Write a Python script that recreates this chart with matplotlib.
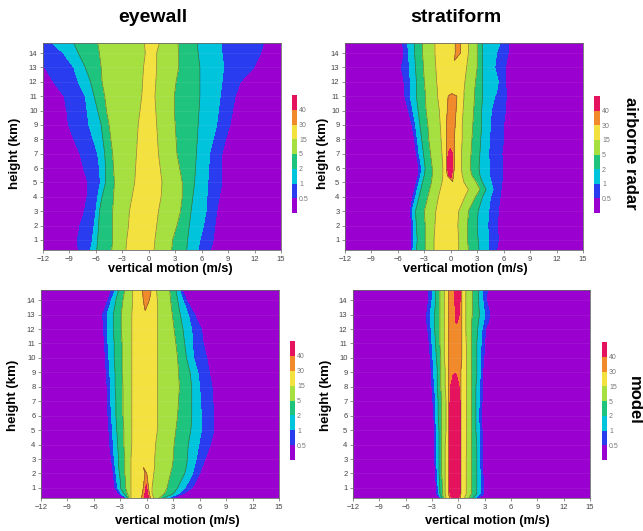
import numpy as np
import matplotlib
matplotlib.use('Agg')
from matplotlib import pyplot as plt
from matplotlib.colors import ListedColormap, BoundaryNorm
from matplotlib.cm import ScalarMappable

plt.rcParams['font.family'] = ['Liberation Sans', 'DejaVu Sans']

# contour levels (frequency, %) and their colours
levels = [0.5, 1, 2, 5, 15, 30, 40]
colors = ['#9a00d0', '#2a3cf0', '#00c4dc', '#1ec47e', '#a6e040', '#f2e13e', '#f08a2a', '#e5125e']
xticks = [-12, -9, -6, -3, 0, 3, 6, 9, 12, 15]
yticks = list(range(1, 15))

# each row: velocity (m/s) where the field crosses 0.5, 1, 2, 5, 15, 30, 40
# left = reading in from the left edge, right = reading in from the right edge

# airborne radar, eyewall
ew_h = [0.3, 1, 2, 3, 4, 5, 6, 7, 8, 9, 10, 11, 12, 13, 14, 14.7]
ew_left = [[-8.0, -6.6, -5.9, -4.2, -2.6], [-8.1, -6.4, -5.8, -4.1, -2.5],
           [-7.8, -6.2, -5.7, -4.1, -2.3], [-7.3, -6.0, -5.6, -4.1, -2.2],
           [-7.0, -5.8, -5.3, -4.0, -1.9], [-6.9, -5.5, -4.9, -3.9, -1.6],
           [-7.4, -5.6, -4.9, -4.0, -1.5], [-7.8, -5.8, -5.0, -4.1, -1.4],
           [-8.5, -6.3, -5.2, -4.3, -1.3], [-9.1, -6.8, -5.4, -4.5, -1.2],
           [-9.3, -7.0, -5.8, -4.8, -1.0], [-9.6, -7.2, -6.2, -5.0, -0.8],
           [-10.8, -8.0, -6.6, -5.3, -0.7], [-11.8, -8.5, -7.2, -5.4, -0.6],
           [-13.0, -9.7, -8.0, -5.6, -0.4], [-13.0, -11.0, -8.5, -5.8, -0.5]]
ew_right = [[7.0, 5.6, 4.3, 2.6, 0.6], [7.3, 5.8, 4.4, 2.7, 0.7],
            [7.5, 6.2, 4.6, 3.2, 0.9], [7.7, 6.5, 4.8, 3.6, 1.1],
            [8.0, 6.6, 5.0, 3.8, 1.4], [8.3, 6.7, 5.2, 3.8, 1.5],
            [8.3, 6.8, 5.3, 3.5, 1.3], [8.3, 6.9, 5.4, 3.2, 1.1],
            [8.7, 7.3, 5.5, 3.1, 1.0], [9.2, 7.7, 5.6, 3.0, 0.9],
            [9.5, 7.9, 5.7, 2.9, 0.8], [9.8, 8.1, 5.8, 2.9, 0.7],
            [10.4, 8.3, 5.8, 3.1, 0.8], [11.9, 8.5, 5.8, 3.4, 0.9],
            [12.7, 8.3, 5.6, 3.4, 0.9], [13.0, 8.2, 5.5, 3.3, 1.2]]
ew_peak = [20] * 16

# airborne radar, stratiform
sf_h = [0.3, 1, 2, 3, 4, 4.5, 5, 5.5, 6, 7, 8, 9, 10, 11, 11.3, 12, 13, 14, 14.7]
sf_left = [[-4.5, -4.3, -3.9, -2.9, -1.9], [-4.4, -4.2, -3.8, -2.9, -1.9],
           [-4.4, -4.2, -3.9, -2.9, -1.8], [-4.6, -4.4, -4.0, -3.0, -1.7],
           [-4.3, -4.0, -3.6, -2.6, -1.4], [-4.1, -3.8, -3.4, -2.4, -1.2],
           [-3.9, -3.6, -3.2, -2.2, -1.0], [-3.7, -3.4, -3.0, -2.1, -0.9, -0.4, -0.2],
           [-3.6, -3.3, -2.9, -2.1, -0.9, -0.5, -0.4], [-3.9, -3.6, -3.1, -2.3, -1.0, -0.5, -0.3],
           [-4.1, -3.8, -3.3, -2.5, -1.1, -0.5], [-4.4, -4.0, -3.5, -2.6, -1.2, -0.5],
           [-4.8, -4.3, -3.7, -2.8, -1.3, -0.4], [-5.2, -4.6, -3.9, -2.9, -1.5, -0.3],
           [-5.3, -4.6, -3.9, -2.9, -1.5], [-5.3, -4.6, -3.9, -3.0, -1.6],
           [-5.6, -4.7, -4.0, -3.1, -1.7], [-5.3, -4.8, -4.1, -3.2, -1.8, 0.5],
           [-5.5, -4.9, -4.1, -3.2, -1.8, 0.5]]
sf_right = [[5.2, 4.3, 3.2, 2.0, 0.9], [5.4, 4.3, 3.1, 1.9, 0.9],
            [5.3, 4.2, 3.0, 1.9, 0.8], [5.4, 4.3, 3.1, 2.0, 0.9],
            [5.6, 4.5, 3.6, 2.8, 1.6], [5.7, 4.8, 4.0, 3.3, 2.0],
            [5.8, 4.6, 3.6, 2.9, 1.5], [5.9, 4.4, 3.3, 2.4, 1.3, 0.3, 0.1],
            [5.9, 4.4, 3.2, 2.2, 1.2, 0.4, 0.2], [5.8, 4.3, 3.3, 2.3, 1.2, 0.4, 0.2],
            [6.0, 4.4, 3.4, 2.4, 1.3, 0.4], [6.0, 4.5, 3.5, 2.5, 1.3, 0.5],
            [6.2, 4.6, 3.5, 2.6, 1.4, 0.6], [6.3, 5.0, 3.6, 2.7, 1.5, 0.7],
            [6.3, 5.2, 3.6, 2.7, 1.5], [6.2, 5.4, 3.6, 2.8, 1.6],
            [6.2, 5.0, 3.6, 3.0, 1.8], [6.5, 5.2, 3.6, 3.0, 2.0, 1.1],
            [6.6, 5.6, 3.6, 3.0, 2.0, 1.1]]
sf_peak = [25, 25, 25, 25, 25, 25, 28, 45, 48, 42, 36, 36, 36, 33, 28, 27, 27, 33, 33]

# model, eyewall
me_h = [0.3, 0.6, 1, 1.5, 2, 2.5, 3, 4, 5, 6, 7, 8, 9, 10, 11, 12, 13, 14, 14.7]
me_left = [[-2.4, -2.3, -2.2, -2.0, -1.8, -0.6, -0.3], [-3.2, -2.9, -2.6, -2.2, -1.8, -0.5, -0.2],
           [-3.6, -3.3, -3.0, -2.4, -1.8, -0.4, -0.1], [-3.7, -3.4, -3.0, -2.4, -1.8, -0.3],
           [-3.8, -3.5, -3.1, -2.5, -1.8, -0.2], [-3.9, -3.6, -3.2, -2.5, -1.8],
           [-4.0, -3.7, -3.2, -2.5, -1.8], [-4.2, -3.8, -3.3, -2.6, -1.7],
           [-4.3, -3.9, -3.4, -2.6, -1.7], [-4.4, -4.0, -3.5, -2.7, -1.7],
           [-4.5, -4.1, -3.5, -2.7, -1.7], [-4.5, -4.1, -3.6, -2.7, -1.7],
           [-4.6, -4.2, -3.6, -2.8, -1.7], [-4.7, -4.3, -3.7, -2.8, -1.7],
           [-4.8, -4.4, -3.7, -2.8, -1.7], [-4.9, -4.5, -3.8, -2.9, -1.7],
           [-5.0, -4.5, -3.8, -2.9, -1.7], [-4.4, -4.0, -3.5, -2.7, -1.6, -0.4],
           [-4.0, -3.6, -3.2, -2.5, -1.6, -0.5]]
me_right = [[2.8, 2.4, 1.9, 1.4, 0.8, 0.4, 0.2], [4.2, 3.6, 3.0, 2.0, 0.6, 0.3, 0.1],
            [5.1, 4.3, 3.5, 2.3, 0.6, 0.2, 0.0], [5.6, 4.8, 3.9, 2.5, 0.7, 0.1],
            [6.0, 5.2, 4.3, 2.7, 0.8, 0.0], [6.3, 5.4, 4.5, 2.9, 0.9],
            [6.6, 5.6, 4.6, 3.0, 0.9], [7.2, 5.9, 4.7, 3.1, 1.0],
            [7.6, 6.2, 5.0, 3.3, 1.2], [7.6, 6.2, 5.1, 3.5, 1.2],
            [7.5, 6.1, 5.1, 3.6, 1.2], [7.4, 6.0, 5.1, 3.7, 1.2],
            [7.1, 5.8, 4.9, 3.6, 1.2], [6.8, 5.3, 4.5, 3.5, 1.2],
            [6.4, 5.2, 4.3, 3.3, 1.2], [6.2, 5.1, 4.1, 3.1, 1.2],
            [5.4, 4.7, 3.8, 2.9, 1.2], [4.5, 4.1, 3.5, 2.7, 1.2, 0.3],
            [4.0, 3.7, 3.3, 2.6, 1.1, 0.5]]
me_peak = [48, 46, 42, 38, 34, 29, 25, 25, 25, 25, 25, 25, 25, 25, 25, 25, 28, 35, 36]

# model, stratiform
ms_h = [0.3, 0.6, 1, 2, 3, 4, 5, 6, 7, 8, 8.8, 9.2, 10, 11, 12, 12.5, 13, 14, 14.7]
ms_left = [[-2.1, -2.0, -1.9, -1.7, -1.4, -1.0, -0.8], [-2.5, -2.3, -2.1, -1.8, -1.5, -1.1, -0.95],
           [-2.5, -2.3, -2.1, -1.8, -1.5, -1.1, -0.95], [-2.6, -2.4, -2.2, -1.9, -1.5, -1.1, -0.95],
           [-2.7, -2.5, -2.2, -1.9, -1.5, -1.1, -0.95], [-2.7, -2.5, -2.2, -1.9, -1.5, -1.1, -0.95],
           [-2.7, -2.5, -2.2, -1.9, -1.4, -1.1, -0.95], [-2.8, -2.6, -2.3, -1.9, -1.4, -1.1, -0.95],
           [-2.9, -2.6, -2.3, -1.9, -1.4, -1.1, -0.95], [-3.0, -2.7, -2.4, -2.0, -1.5, -1.1, -0.9],
           [-3.1, -2.8, -2.4, -2.0, -1.5, -1.1, -0.6], [-3.1, -2.8, -2.4, -2.0, -1.5, -1.1],
           [-3.2, -2.9, -2.5, -2.0, -1.6, -1.1], [-3.3, -3.0, -2.6, -2.1, -1.6, -1.1],
           [-3.5, -3.1, -2.7, -2.1, -1.6, -1.1], [-3.6, -3.2, -2.7, -2.1, -1.6, -1.1, -0.3],
           [-3.6, -3.2, -2.7, -2.1, -1.6, -1.1, -0.35], [-3.4, -3.0, -2.6, -2.1, -1.6, -1.1, -0.4],
           [-3.4, -3.0, -2.6, -2.1, -1.6, -1.1, -0.4]]
ms_right = [[2.3, 2.0, 1.7, 1.2, 0.7, 0.2, 0.0], [2.9, 2.5, 2.1, 1.5, 0.9, 0.3, 0.2],
            [2.9, 2.5, 2.1, 1.5, 0.9, 0.3, 0.2], [2.8, 2.5, 2.1, 1.5, 0.9, 0.3, 0.2],
            [2.8, 2.4, 2.1, 1.5, 0.9, 0.3, 0.2], [2.7, 2.4, 2.1, 1.5, 0.95, 0.3, 0.2],
            [2.7, 2.4, 2.0, 1.5, 0.95, 0.3, 0.2], [2.6, 2.3, 2.0, 1.5, 0.95, 0.3, 0.2],
            [2.7, 2.4, 2.0, 1.5, 0.95, 0.3, 0.2], [2.7, 2.4, 2.0, 1.5, 0.95, 0.3, 0.1],
            [2.8, 2.5, 2.1, 1.5, 0.95, 0.3, -0.2], [2.8, 2.5, 2.1, 1.5, 0.95, 0.3],
            [2.9, 2.5, 2.1, 1.5, 0.95, 0.4], [3.0, 2.6, 2.1, 1.5, 0.9, 0.4],
            [3.1, 2.7, 2.2, 1.5, 0.85, 0.4], [3.4, 2.9, 2.3, 1.5, 0.85, 0.4, -0.1],
            [3.6, 3.0, 2.4, 1.6, 0.85, 0.4, 0.1], [3.2, 2.8, 2.3, 1.6, 0.85, 0.4, 0.2],
            [3.3, 2.8, 2.3, 1.6, 0.85, 0.4, 0.2]]
ms_peak = [45, 50, 50, 50, 50, 50, 50, 50, 50, 50, 42, 36, 36, 36, 36, 41, 45, 45, 45]


def build(h, left, right, peak):
    X, Z = [], []
    for lrow, rrow, pk in zip(left, right, peak):
        mid = (lrow[-1] + rrow[-1]) / 2
        n = len(levels)
        lx = [lrow[i] if i < len(lrow) else mid for i in range(n)]
        lz = [levels[i] if i < len(lrow) else pk for i in range(n)]
        rx = [rrow[i] if i < len(rrow) else mid for i in range(n)]
        rz = [levels[i] if i < len(rrow) else pk for i in range(n)]
        X.append([-14] + lx + [mid] + rx[::-1] + [17])
        Z.append([0] + lz + [pk] + rz[::-1] + [0])
    X = np.array(X, dtype=float)
    Z = np.array(Z, dtype=float)
    Y = np.repeat(np.array(h, dtype=float)[:, None], X.shape[1], axis=1)
    return X, Y, Z


W, H = 643, 531
fig = plt.figure(figsize=(W / 100, H / 100), dpi=100)

def rect(x0, y0, x1, y1):
    return [x0 / W, 1 - y1 / H, (x1 - x0) / W, (y1 - y0) / H]

panels = [
    (build(ew_h, ew_left, ew_right, ew_peak), rect(43, 43, 281, 250), rect(292, 95, 297, 213)),
    (build(sf_h, sf_left, sf_right, sf_peak), rect(345, 43, 583, 250), rect(594, 96, 600, 213)),
    (build(me_h, me_left, me_right, me_peak), rect(41, 290, 279, 498), rect(290, 341, 295, 460)),
    (build(ms_h, ms_left, ms_right, ms_peak), rect(353, 290, 590, 498), rect(602, 342, 607, 460)),
]

bounds = [-1] + levels + [200]
cmap = ListedColormap(colors)
norm = BoundaryNorm([0] + levels + [50], len(colors))

for (X, Y, Z), ax_rect, cb_rect in panels:
    ax = fig.add_axes(ax_rect)
    ax.contourf(X, Y, Z, levels=bounds, colors=colors)
    ax.contour(X, Y, Z, levels=[l + 1e-3 for l in [2, 5, 15, 30]], colors='#3a3a3a',
               linewidths=0.5, alpha=0.6)
    ax.set_xlim(-12, 15)
    ax.set_ylim(0.3, 14.7)
    ax.set_xticks(xticks)
    ax.set_yticks(yticks)
    # faint horizontal stripes seen across the original panels
    ax.grid(axis='y', color='white', alpha=0.08, linewidth=0.6)
    ax.tick_params(labelsize=5.5, labelcolor='#444444', length=2.5, width=0.5,
                   color='#666666', pad=1.5)
    for sp in ax.spines.values():
        sp.set_color('#6a6a6a')
        sp.set_linewidth(0.6)

    cax = fig.add_axes(cb_rect)
    cb = fig.colorbar(ScalarMappable(norm=norm, cmap=cmap), cax=cax, ticks=levels)
    cb.ax.set_yticklabels(['0.5', '1', '2', '5', '15', '30', '40'])
    cb.ax.minorticks_off()
    cb.ax.tick_params(which='both', labelsize=5, labelcolor='#777777', length=0, pad=1.5)
    cb.outline.set_visible(False)

fig.text(153 / W, 1 - 17 / H, 'eyewall', ha='center', va='center', fontsize=14, fontweight='bold')
fig.text(456 / W, 1 - 17 / H, 'stratiform', ha='center', va='center', fontsize=14, fontweight='bold')
fig.text(631 / W, 1 - 153 / H, 'airborne radar', ha='center', va='center', fontsize=12,
         fontweight='bold', rotation=-90)
fig.text(634 / W, 1 - 400 / H, 'model', ha='center', va='center', fontsize=12,
         fontweight='bold', rotation=-90)

for x, y in [(15, 153), (323, 153), (13, 395), (326, 395)]:
    fig.text(x / W, 1 - y / H, 'height (km)', ha='center', va='center', fontsize=9.5,
             fontweight='bold', rotation=90)
for x, y in [(170, 269), (465, 269), (177, 521), (487, 521)]:
    fig.text(x / W, 1 - y / H, 'vertical motion (m/s)', ha='center', va='center',
             fontsize=9.2, fontweight='bold')

fig.savefig('out.png', dpi=100)
